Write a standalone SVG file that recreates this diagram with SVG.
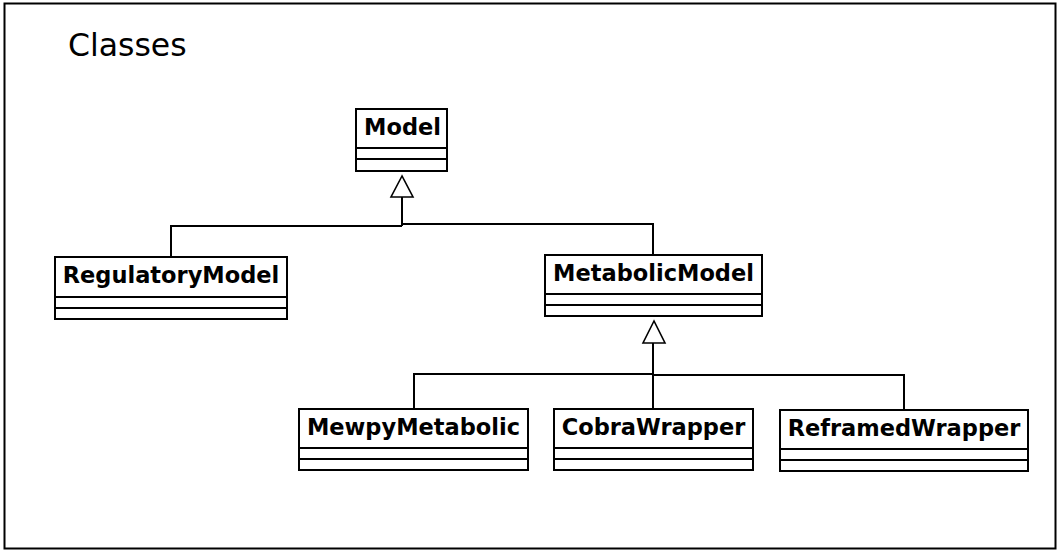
<svg xmlns="http://www.w3.org/2000/svg" width="1060" height="554" viewBox="0 0 1060 554">
<style>
.box{fill:#fff;stroke:#000;stroke-width:2}
.ln{stroke:#000;stroke-width:2;fill:none}
.nm{font-family:"DejaVu Sans",sans-serif;font-weight:bold;font-size:22.5px;text-anchor:middle;fill:#000}
.tri{fill:#fff;stroke:#000;stroke-width:1.6}
</style>
<rect x="0" y="0" width="1060" height="554" fill="#fff"/>
<rect x="4.5" y="3.5" width="1051" height="545" fill="none" stroke="#000" stroke-width="2"/>
<text x="68" y="56" font-family="DejaVu Sans, sans-serif" font-size="31.5" fill="#000">Classes</text>
<g id="connectors">
<path class="ln" d="M402,197 V226 M171,257 V226 H402 M402,224 H653 V255"/>
<polygon class="tri" points="402,176 391,197 413,197"/>
<path class="ln" d="M653,343 V409 M414,409 V374 H653 M653,375 H904 V410"/>
<polygon class="tri" points="654,321 643,343 665,343"/>
</g>
<g id="Model">
<rect class="box" x="356" y="109" width="91" height="62"/>
<path class="ln" d="M356,148 H447 M356,159 H447"/>
<text class="nm" x="402.5" y="135">Model</text>
</g>
<g id="RegulatoryModel">
<rect class="box" x="55" y="257" width="232" height="62"/>
<path class="ln" d="M55,297 H287 M55,308 H287"/>
<text class="nm" x="171" y="283">RegulatoryModel</text>
</g>
<g id="MetabolicModel">
<rect class="box" x="545" y="255" width="217" height="61"/>
<path class="ln" d="M545,294 H762 M545,305 H762"/>
<text class="nm" x="653.5" y="281">MetabolicModel</text>
</g>
<g id="MewpyMetabolic">
<rect class="box" x="299" y="409" width="229" height="61"/>
<path class="ln" d="M299,448 H528 M299,459 H528"/>
<text class="nm" x="413.5" y="434.5">MewpyMetabolic</text>
</g>
<g id="CobraWrapper">
<rect class="box" x="554" y="409" width="199" height="61"/>
<path class="ln" d="M554,448 H753 M554,459 H753"/>
<text class="nm" x="653.5" y="434.5">CobraWrapper</text>
</g>
<g id="ReframedWrapper">
<rect class="box" x="780" y="410" width="248" height="61"/>
<path class="ln" d="M780,449 H1028 M780,460 H1028"/>
<text class="nm" x="904" y="436">ReframedWrapper</text>
</g>
</svg>
